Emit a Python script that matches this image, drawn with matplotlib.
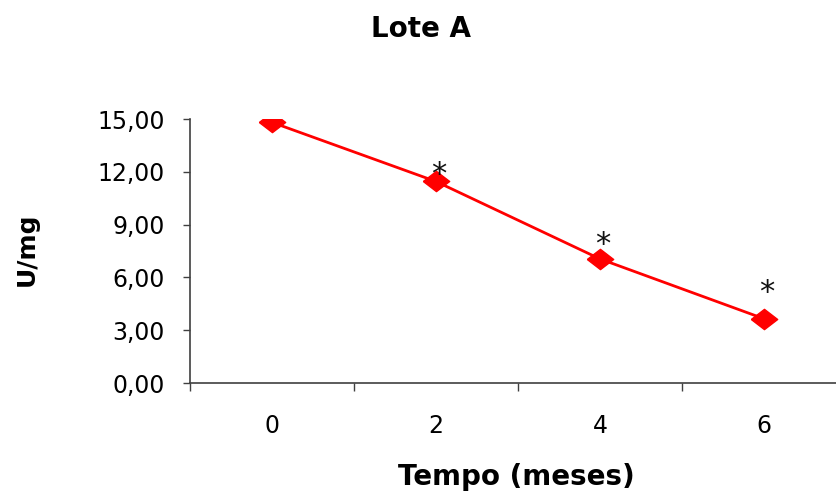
import matplotlib.pyplot as plt
from matplotlib.ticker import FixedLocator, FuncFormatter

plt.rcParams['font.family'] = 'DejaVu Sans'

# Enzyme activity (U/mg) over storage time
months = ['0', '2', '4', '6']
activity = [14.81, 11.45, 7.05, 3.65]

# Significance marks: which points get an asterisk and at what height
star_idx = [1, 2, 3]
star_y = [12.23, 8.20, 5.47]

fig = plt.figure(figsize=(8.37, 4.94), dpi=100)
ax = fig.add_axes([190 / 837, 111 / 494, 647 / 837, 264 / 494])

x = list(range(len(months)))
diamond = [(-1.3, 0), (0, 1), (1.3, 0), (0, -1), (-1.3, 0)]
ax.plot(x, activity, color='#ff0000', linewidth=2.0,
        marker=diamond, markersize=19, markerfacecolor='#ff0000',
        markeredgecolor='#ff0000', zorder=3)

for i, yv in zip(star_idx, star_y):
    ax.annotate('*', (x[i], yv), xytext=(2, -4.5), textcoords='offset points',
                ha='center', va='center', fontsize=22, color='#111111')

ax.set_xlim(-0.5, 3 + 73 / 164)
ax.set_ylim(0, 15)

# y axis: 0..15 step 3 with comma decimals
ax.yaxis.set_major_locator(FixedLocator([0, 3, 6, 9, 12, 15]))
ax.yaxis.set_major_formatter(FuncFormatter(lambda v, p: f'{v:.2f}'.replace('.', ',')))
ax.tick_params(axis='y', direction='out', length=5, width=1.0,
               color='#404040', labelsize=17, pad=13)

# x axis: labels at category centres, tick marks between categories
ax.set_xticks(x)
ax.set_xticklabels(months)
ax.xaxis.set_minor_locator(FixedLocator([-0.5, 0.5, 1.5, 2.5]))
ax.tick_params(axis='x', which='major', length=0, labelsize=17, pad=22)
ax.tick_params(axis='x', which='minor', direction='out', length=6,
               width=1.0, color='#404040')

for side in ['top', 'right']:
    ax.spines[side].set_visible(False)
for side in ['left', 'bottom']:
    ax.spines[side].set_color('#404040')
    ax.spines[side].set_linewidth(1.2)

fig.text(421 / 837, 1 - 37 / 494, 'Lote A', ha='center', va='baseline',
         fontsize=20, fontweight='bold')
fig.text(516 / 837, 1 - 485 / 494, 'Tempo (meses)', ha='center',
         va='baseline', fontsize=20, fontweight='bold')
fig.text(27 / 837, 1 - 249 / 494, 'U/mg', ha='center', va='center',
         rotation=90, fontsize=18, fontweight='bold')

fig.savefig('out.png', dpi=100)
